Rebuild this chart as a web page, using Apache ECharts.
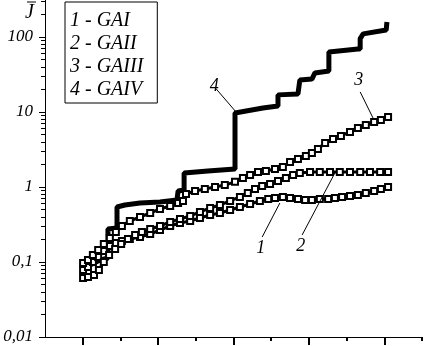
<!DOCTYPE html>
<html>
<head>
<meta charset="utf-8">
<script src="https://cdn.jsdelivr.net/npm/echarts@6/dist/echarts.min.js"></script>
<style>
    html, body { margin: 0; padding: 0; background: #fff; }
    #chart { width: 424px; height: 346px; }
</style>
</head>
<body>
<div id="chart"></div>
<script>
    // [x, J] readings per sample
    var gai1 = [[1.01,0.078],[1.14,0.086],[1.27,0.100],[1.41,0.117],[1.56,0.140],[1.72,0.163],[1.88,0.179],
        [2.04,0.191],[2.25,0.203],[2.52,0.215],[2.79,0.236],[3.05,0.267],[3.32,0.302],[3.58,0.331],[3.85,0.352],
        [4.11,0.386],[4.38,0.423],[4.64,0.450],[4.91,0.494],[5.17,0.541],[5.44,0.593],[5.70,0.651],[5.92,0.692],
        [6.10,0.713],[6.31,0.736],[6.50,0.713],[6.71,0.692],[6.90,0.671],[7.08,0.671],[7.29,0.692],[7.51,0.692],
        [7.69,0.713],[7.88,0.736],[8.09,0.759],[8.30,0.782],[8.51,0.832],[8.73,0.884],[8.91,0.940],[9.10,1.0]];
    var gai2 = [[1.01,0.061],[1.14,0.063],[1.30,0.067],[1.43,0.078],[1.56,0.100],[1.70,0.124],[1.86,0.149],
        [2.02,0.174],[2.20,0.203],[2.39,0.229],[2.57,0.251],[2.79,0.275],[3.05,0.302],[3.32,0.342],[3.58,0.374],
        [3.85,0.411],[4.11,0.464],[4.38,0.525],[4.64,0.575],[4.91,0.651],[5.17,0.736],[5.38,0.832],[5.57,0.940],
        [5.76,1.03],[5.97,1.10],[6.18,1.20],[6.39,1.32],[6.58,1.45],[6.76,1.54],[7.03,1.58],[7.29,1.58],
        [7.56,1.58],[7.82,1.58],[8.09,1.58],[8.36,1.58],[8.62,1.58],[8.89,1.58],[9.10,1.58]];
    var gai3 = [[1.01,0.097],[1.14,0.106],[1.27,0.124],[1.41,0.145],[1.56,0.174],[1.72,0.209],[1.88,0.251],
        [2.04,0.302],[2.25,0.352],[2.52,0.398],[2.79,0.450],[3.05,0.509],[3.32,0.558],[3.53,0.612],[3.66,0.651],
        [3.74,0.807],[3.98,0.884],[4.24,0.940],[4.51,1.0],[4.77,1.06],[5.04,1.17],[5.25,1.32],[5.44,1.45],
        [5.65,1.58],[5.86,1.63],[6.10,1.74],[6.31,1.85],[6.50,2.15],[6.71,2.36],[6.92,2.59],[7.08,2.84],
        [7.24,3.21],[7.43,3.86],[7.64,4.37],[7.85,4.79],[8.09,5.41],[8.30,6.12],[8.51,6.71],[8.73,7.36],
        [8.91,7.82],[9.10,8.58]];
    var gai4 = [[1.01,0.089],[1.25,0.094],[1.46,0.106],[1.67,0.113],[1.67,0.275],[1.91,0.284],[1.91,0.541],
        [2.12,0.575],[2.52,0.612],[3.05,0.631],[3.50,0.671],[3.53,0.885],[3.69,0.912],[3.69,1.54],[4.32,1.63],
        [5.04,1.74],[5.04,9.7],[5.78,11.3],[6.18,12.0],[6.18,16.9],[6.71,17.4],[6.76,26.7],[7.08,27.5],
        [7.16,33.1],[7.53,35.2],[7.53,63.1],[8.30,69.2],[8.36,69.2],[8.36,95],[8.44,110],[9.05,124],[9.07,124],[9.07,158]];

    var names = ['1 - GAI', '2 - GAII', '3 - GAIII', '4 - GAIV'];
    var majorY = [0.01, 0.1, 1, 10, 100];
    var minorY = [0.02,0.03,0.04,0.05,0.06,0.07,0.08,0.09,0.2,0.3,0.4,0.5,0.6,0.7,0.8,0.9,
        2,3,4,5,6,7,8,9,20,30,40,50,60,70,80,90,200,300];
    var majorX = [1, 3, 5, 7, 9];
    var minorX = [2, 4, 6, 8, 10];
    // callouts: [label, from, to]
    var callouts = [
        ['1', [5.76, 0.215], [6.23, 0.612]],
        ['2', [6.82, 0.229], [7.69, 1.54]],
        ['3', [8.36, 18.5], [8.70, 8.32]],
        ['4', [4.54, 20.3], [5.09, 9.7]]
    ];

    var font = 'Liberation Serif';
    var chart = echarts.init(document.getElementById('chart'));

    function callout(i) {
        var c = callouts[i];
        return {
            silent: true,
            symbol: ['none', 'none'],
            lineStyle: {color: '#000', width: 1, type: 'solid'},
            label: {
                show: true, position: 'start', formatter: c[0], distance: 3,
                color: '#000', fontFamily: font, fontStyle: 'italic', fontSize: 18
            },
            emphasis: {disabled: true},
            data: [[{coord: c[1]}, {coord: c[2]}]]
        };
    }

    function markerSeries(i, data) {
        return {
            name: names[i],
            type: 'line',
            data: data,
            symbol: 'emptyRect',
            symbolSize: 6,
            showAllSymbol: true,
            itemStyle: {color: '#000', borderWidth: 1},
            lineStyle: {color: '#000', width: 3},
            markLine: callout(i)
        };
    }

    var yBase = {
        type: 'log',
        min: 0.01,
        max: 311,
        position: 'left',
        splitLine: {show: false},
        axisLine: {lineStyle: {color: '#000', width: 1}},
        axisLabel: {show: false}
    };

    chart.setOption({
        animation: false,
        backgroundColor: '#fff',
        grid: {left: 45, right: 2, top: 0, bottom: 9, outerBoundsMode: 'none'},
        legend: {
            orient: 'vertical',
            left: 65, top: 2,
            icon: 'none',
            itemWidth: 0, itemHeight: 18, itemGap: 3,
            padding: [9, 14, 3, 0],
            borderColor: '#000', borderWidth: 1,
            selectedMode: false,
            textStyle: {color: '#000', fontFamily: font, fontStyle: 'italic', fontSize: 20},
            data: names
        },
        xAxis: [{
            type: 'value', min: 0, max: 10,
            splitLine: {show: false},
            axisLine: {lineStyle: {color: '#000', width: 1}},
            axisTick: {customValues: majorX, length: 8, lineStyle: {color: '#000', width: 2}},
            axisLabel: {show: false}
        }, {
            type: 'value', min: 0, max: 10, position: 'bottom',
            splitLine: {show: false},
            axisLine: {lineStyle: {color: '#000', width: 1}},
            axisTick: {customValues: minorX, length: 4, lineStyle: {color: '#000', width: 2}},
            axisLabel: {show: false}
        }],
        yAxis: [Object.assign({}, yBase, {
            axisTick: {customValues: majorY, length: 6, lineStyle: {color: '#000'}},
            axisLabel: {
                show: true, customValues: majorY, margin: 12,
                color: '#000', fontFamily: font, fontStyle: 'italic', fontSize: 17,
                formatter: function (v) { return String(v).replace('.', ','); }
            }
        }), Object.assign({}, yBase, {
            axisTick: {customValues: minorY, length: 4, lineStyle: {color: '#000'}}
        })],
        graphic: [
            {type: 'text', left: 25, top: 3, style: {text: 'J', fill: '#000', font: 'italic 20px "Liberation Serif"'}},
            {type: 'line', shape: {x1: 27, y1: 2, x2: 36, y2: 2}, style: {stroke: '#000', lineWidth: 1}}
        ],
        series: [
            markerSeries(0, gai1),
            markerSeries(1, gai2),
            markerSeries(2, gai3),
            {
                name: names[3],
                type: 'line',
                data: gai4,
                symbol: 'none',
                itemStyle: {color: '#000'},
                lineStyle: {color: '#000', width: 5},
                markLine: callout(3)
            }
        ]
    });
</script>
</body>
</html>
